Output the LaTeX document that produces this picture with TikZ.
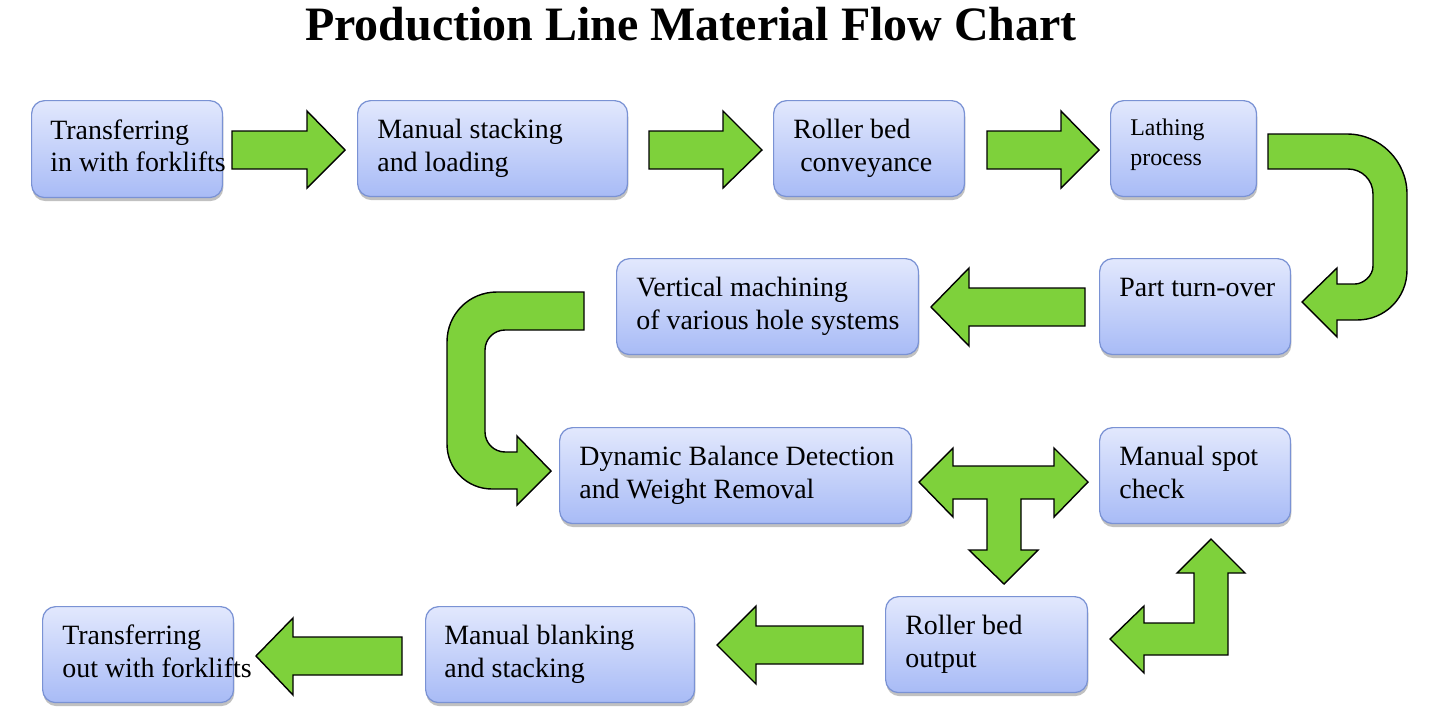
\documentclass[tikz,border=0pt]{standalone}
\usepackage{fontspec}
\setmainfont{Liberation Serif}
\usetikzlibrary{shadows}
\definecolor{boxtop}{RGB}{226,232,253}
\definecolor{boxbot}{RGB}{168,187,246}
\definecolor{boxborder}{RGB}{122,146,212}
\definecolor{arrowgreen}{RGB}{126,209,59}
\tikzset{
  box/.style={draw=boxborder, line width=0.7pt, rounded corners=0.26cm,
    top color=boxtop, bottom color=boxbot, inner sep=0pt, anchor=north west,
    drop shadow={shadow xshift=0.4pt, shadow yshift=-2pt, opacity=0.35, fill=black!70}},
  lbl/.style={font=\fontsize{15.9}{18.6}\selectfont, align=left, anchor=west, inner sep=0pt},
  smalllbl/.style={font=\fontsize{13.6}{16.8}\selectfont, align=left, anchor=west, inner sep=0pt},
  flow/.style={fill=arrowgreen, draw=black, line width=0.8pt, line join=miter},
}
\begin{document}
\begin{tikzpicture}[x=0.02cm, y=-0.02cm]
\useasboundingbox (0,0) rectangle (1434,717);

% title
\node[anchor=base, font=\fontsize{27.3}{30}\selectfont\bfseries, inner sep=0pt] (title) at (691,40) {Production Line Material Flow Chart};

% boxes
\node[box, minimum width=3.82cm, minimum height=1.94cm] (b1) at (31,100) {};
\node[box, minimum width=5.40cm, minimum height=1.92cm] (b2) at (357,100) {};
\node[box, minimum width=3.82cm, minimum height=1.92cm] (b3) at (773,100) {};
\node[box, minimum width=2.92cm, minimum height=1.92cm] (b4) at (1110,100) {};
\node[box, minimum width=3.82cm, minimum height=1.92cm] (b5) at (1099,258) {};
\node[box, minimum width=6.04cm, minimum height=1.92cm] (b6) at (616,258) {};
\node[box, minimum width=7.04cm, minimum height=1.92cm] (b7) at (559,427) {};
\node[box, minimum width=3.82cm, minimum height=1.92cm] (b8) at (1099,427) {};
\node[box, minimum width=4.04cm, minimum height=1.92cm] (b9) at (885,596) {};
\node[box, minimum width=5.38cm, minimum height=1.92cm] (b10) at (425,606) {};
\node[box, minimum width=3.82cm, minimum height=1.92cm] (b11) at (42,606) {};

% labels
\node[lbl] (t1) at ([xshift=0.38cm]b1.west) {\strut Transferring\\\strut in with forklifts};
\node[lbl] (t2) at ([xshift=0.40cm]b2.west) {\strut Manual stacking\\\strut and loading};
\node[lbl] (t3) at ([xshift=0.40cm]b3.west) {\strut Roller bed\\\strut\ conveyance};
\node[smalllbl] (t4) at ([xshift=0.40cm,yshift=0.08cm]b4.west) {\strut Lathing\\\strut process};
\node[lbl] (t5) at ([xshift=0.40cm]b5.west) {\strut Part turn-over\\\strut};
\node[lbl] (t6) at ([xshift=0.40cm]b6.west) {\strut Vertical machining\\\strut of various hole systems};
\node[lbl] (t7) at ([xshift=0.40cm]b7.west) {\strut Dynamic Balance Detection\\\strut and Weight Removal};
\node[lbl] (t8) at ([xshift=0.40cm]b8.west) {\strut Manual spot\\\strut check};
\node[lbl] (t9) at ([xshift=0.40cm]b9.west) {\strut Roller bed\\\strut output};
\node[lbl] (t10) at ([xshift=0.38cm]b10.west) {\strut Manual blanking\\\strut and stacking};
\node[lbl] (t11) at ([xshift=0.40cm]b11.west) {\strut Transferring\\\strut out with forklifts};

% straight arrows, row 1
\draw[flow] (232,131) -- (307,131) -- (307,111) -- (345,150) -- (307,188) -- (307,169) -- (232,169) -- cycle;
\draw[flow] (649,131) -- (723,131) -- (723,111) -- (762,150) -- (723,188) -- (723,169) -- (649,169) -- cycle;
\draw[flow] (987,131) -- (1061,131) -- (1061,111) -- (1099,150) -- (1061,188) -- (1061,169) -- (987,169) -- cycle;

% U-turn right: Lathing -> Part turn-over
\draw[flow] (1268,134) -- (1347,134) .. controls (1380,134) and (1407,161) .. (1407,194)
  -- (1407,270) .. controls (1407,298) and (1385,320) .. (1357,320)
  -- (1337,320) -- (1337,337) -- (1302,302) -- (1337,268) -- (1337,284)
  -- (1355,284) .. controls (1363,284) and (1373,276) .. (1373,266)
  -- (1373,194) .. controls (1373,180) and (1362,169) .. (1348,169)
  -- (1268,169) -- cycle;

% left arrow: Part turn-over -> Vertical machining
\draw[flow] (1085,288) -- (969,288) -- (969,268) -- (931,307) -- (969,346) -- (969,326) -- (1085,326) -- cycle;

% U-turn left: Vertical machining -> Dynamic balance
\draw[flow] (584,292) -- (497,292) .. controls (469,292) and (447,314) .. (447,342)
  -- (447,444) .. controls (447,469) and (467,489) .. (492,489)
  -- (517,489) -- (517,505) -- (551,471) -- (517,436) -- (517,452)
  -- (505,452) .. controls (494,452) and (485,443) .. (485,432)
  -- (485,350) .. controls (485,339) and (494,330) .. (505,330)
  -- (584,330) -- cycle;

% T arrow
\draw[flow] (919,482) -- (953,448) -- (953,466) -- (1054,466) -- (1054,448) -- (1088,482)
  -- (1054,517) -- (1054,499) -- (1021,499) -- (1021,550) -- (1038,550) -- (1004,584)
  -- (969,550) -- (987,550) -- (987,499) -- (953,499) -- (953,517) -- cycle;

% L arrow
\draw[flow] (1110,639) -- (1144,606) -- (1144,623) -- (1194,623) -- (1194,573) -- (1177,573)
  -- (1211,539) -- (1245,573) -- (1228,573) -- (1228,655) -- (1144,655) -- (1144,673) -- cycle;

% bottom row left arrows
\draw[flow] (863,626) -- (756,626) -- (756,606) -- (717,645) -- (756,684) -- (756,664) -- (863,664) -- cycle;
\draw[flow] (402,637) -- (293,637) -- (293,618) -- (256,656) -- (293,695) -- (293,675) -- (402,675) -- cycle;
\end{tikzpicture}
\end{document}
